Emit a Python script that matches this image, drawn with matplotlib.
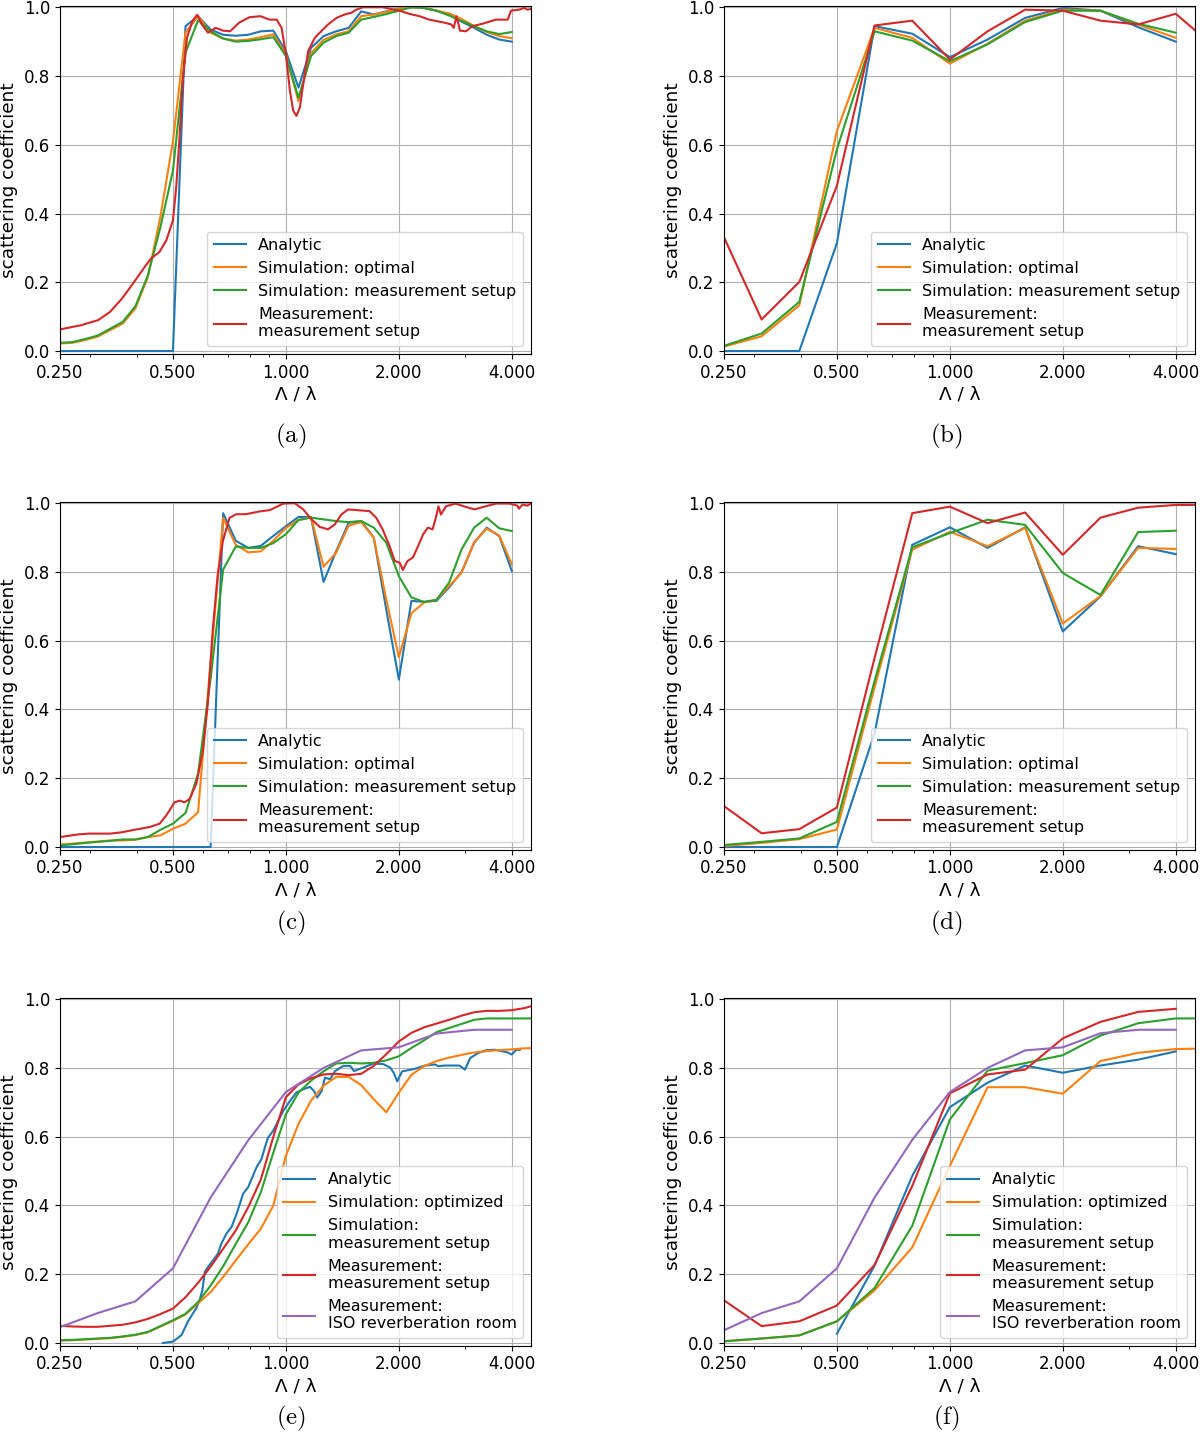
import numpy as np
import matplotlib
matplotlib.use('Agg')
import matplotlib.pyplot as plt
from matplotlib.ticker import FormatStrFormatter, NullFormatter

plt.rcParams['mathtext.fontset'] = 'cm'

# third-octave steps of Lambda/lambda
X3 = [0.25, 0.315, 0.397, 0.5, 0.63, 0.794, 1.0, 1.26, 1.587, 2.0, 2.52, 3.175, 4.0, 5.04]

# 1/9-octave steps of Lambda/lambda
X9 = [0.25, 0.27, 0.2916, 0.315, 0.3402, 0.3674, 0.3969, 0.4286, 0.4629, 0.5,
      0.54, 0.5833, 0.63, 0.6804, 0.7349, 0.7937, 0.8572, 0.9259, 1.0, 1.0801,
      1.1665, 1.2599, 1.3608, 1.4697, 1.5874, 1.7145, 1.8517, 2.0, 2.1601, 2.3331,
      2.5198, 2.7216, 2.9395, 3.1748, 3.429, 3.7035, 4.0, 4.3203, 4.6661]

# (a)
A_ANALYTIC = [0, 0, 0, 0, 0, 0, 0, 0, 0, 0,
              0.945, 0.974, 0.935, 0.92, 0.917, 0.92, 0.93, 0.932, 0.872, 0.766,
              0.882, 0.916, 0.93, 0.94, 0.988, 0.979, 0.988, 0.996, 1.0, 0.998,
              0.99, 0.978, 0.958, 0.94, 0.92, 0.906, 0.9]
A_SIM_OPT = [0.022, 0.024, 0.032, 0.042, 0.061, 0.08, 0.124, 0.215, 0.39, 0.61,
             0.926, 0.974, 0.926, 0.909, 0.903, 0.906, 0.913, 0.921, 0.863, 0.727,
             0.867, 0.905, 0.921, 0.93, 0.974, 0.979, 0.986, 0.996, 1.0, 0.998,
             0.99, 0.982, 0.966, 0.945, 0.928, 0.916, 0.91]
A_SIM_SETUP = [0.024, 0.026, 0.035, 0.045, 0.065, 0.085, 0.13, 0.22, 0.36, 0.525,
               0.868, 0.962, 0.93, 0.909, 0.9, 0.902, 0.907, 0.913, 0.858, 0.737,
               0.858, 0.897, 0.916, 0.926, 0.964, 0.972, 0.98, 0.99, 1.0, 0.998,
               0.99, 0.976, 0.96, 0.945, 0.93, 0.922, 0.928]
A_MEAS_X = [0.25, 0.284, 0.316, 0.34, 0.366, 0.394, 0.42, 0.436, 0.46, 0.48,
            0.5, 0.51, 0.52, 0.53, 0.545, 0.563, 0.58, 0.597, 0.62, 0.65,
            0.68, 0.71, 0.75, 0.8, 0.855, 0.905, 0.945, 0.974, 1.0, 1.025,
            1.046, 1.067, 1.089, 1.112, 1.146, 1.194, 1.231, 1.295, 1.364, 1.434,
            1.495, 1.54, 1.605, 1.81, 2.01, 2.13, 2.27, 2.41, 2.54, 2.65,
            2.76, 2.8, 2.85, 2.91, 3.02, 3.14, 3.34, 3.63, 3.9, 3.98,
            4.18, 4.32, 4.4, 4.5]
A_MEAS_Y = [0.063, 0.075, 0.09, 0.114, 0.153, 0.201, 0.244, 0.268, 0.288, 0.322,
            0.38, 0.476, 0.612, 0.776, 0.911, 0.959, 0.978, 0.95, 0.926, 0.94,
            0.932, 0.93, 0.955, 0.971, 0.974, 0.964, 0.964, 0.94, 0.863, 0.757,
            0.699, 0.684, 0.708, 0.776, 0.872, 0.911, 0.926, 0.95, 0.969, 0.979,
            0.984, 0.993, 1.0, 1.0, 0.99, 0.981, 0.974, 0.964, 0.959, 0.955,
            0.95, 0.94, 0.974, 0.932, 0.93, 0.945, 0.952, 0.964, 0.964, 0.99,
            0.993, 0.998, 0.993, 0.995]

# (b)
B_ANALYTIC = [0, 0, 0, 0.314, 0.945, 0.923, 0.855, 0.906, 0.969, 0.998, 0.99, 0.942, 0.9]
B_SIM_OPT = [0.013, 0.043, 0.133, 0.64, 0.94, 0.911, 0.836, 0.894, 0.961, 0.993, 0.99, 0.95, 0.911]
B_SIM_SETUP = [0.015, 0.051, 0.143, 0.587, 0.93, 0.903, 0.843, 0.892, 0.957, 0.99, 0.99, 0.952, 0.926]
B_MEAS = [0.331, 0.092, 0.201, 0.481, 0.947, 0.961, 0.848, 0.93, 0.993, 0.99, 0.961, 0.95, 0.981, 0.887]

# (c)
C_ANALYTIC = [0, 0, 0, 0, 0, 0, 0, 0, 0, 0, 0, 0, 0,
              0.971, 0.891, 0.87, 0.876, 0.905, 0.933, 0.96, 0.96, 0.771, 0.86,
              0.943, 0.948, 0.9, 0.69, 0.487, 0.716, 0.713, 0.716, 0.755, 0.8,
              0.885, 0.929, 0.904, 0.803]
C_SIM_OPT = [0.007, 0.01, 0.013, 0.016, 0.019, 0.019, 0.021, 0.029, 0.034, 0.053,
             0.068, 0.101, 0.54, 0.957, 0.879, 0.857, 0.86, 0.891, 0.928, 0.951,
             0.96, 0.815, 0.856, 0.935, 0.945, 0.9, 0.72, 0.552, 0.68, 0.711,
             0.719, 0.759, 0.798, 0.887, 0.926, 0.906, 0.822]
C_SIM_SETUP = [0.005, 0.008, 0.012, 0.015, 0.018, 0.022, 0.022, 0.029, 0.05, 0.068,
               0.099, 0.213, 0.49, 0.807, 0.874, 0.87, 0.87, 0.884, 0.91, 0.951,
               0.958, 0.953, 0.948, 0.945, 0.948, 0.929, 0.885, 0.788, 0.726, 0.713,
               0.719, 0.769, 0.866, 0.929, 0.958, 0.927, 0.919]
C_MEAS_X = [0.25, 0.281, 0.299, 0.34, 0.366, 0.394, 0.433, 0.461, 0.48, 0.505,
            0.521, 0.537, 0.554, 0.577, 0.601, 0.619, 0.638, 0.658, 0.679, 0.707,
            0.737, 0.782, 0.85, 0.907, 0.984, 1.056, 1.112, 1.17, 1.231, 1.295,
            1.349, 1.405, 1.464, 1.54, 1.67, 1.74, 1.81, 1.89, 1.95, 2.01,
            2.05, 2.11, 2.18, 2.25, 2.32, 2.39, 2.46, 2.51, 2.55, 2.59,
            2.67, 2.83, 3.02, 3.18, 3.41, 3.63, 3.94, 4.14, 4.18, 4.27,
            4.4, 4.5]
C_MEAS_Y = [0.029, 0.037, 0.039, 0.039, 0.043, 0.05, 0.058, 0.068, 0.092, 0.13,
            0.135, 0.13, 0.14, 0.184, 0.28, 0.415, 0.628, 0.792, 0.889, 0.957,
            0.968, 0.968, 0.976, 0.98, 0.999, 1.0, 0.982, 0.953, 0.931, 0.924,
            0.938, 0.967, 0.982, 0.98, 0.977, 0.958, 0.924, 0.875, 0.832, 0.827,
            0.806, 0.832, 0.842, 0.875, 0.909, 0.929, 0.924, 0.958, 0.991, 0.967,
            0.991, 0.999, 0.989, 0.982, 0.991, 0.999, 0.999, 0.993, 0.984, 0.996,
            0.993, 0.999]

# (d)
D_ANALYTIC = [0, 0, 0, 0, 0.331, 0.879, 0.93, 0.87, 0.93, 0.627, 0.729, 0.875, 0.852]
D_SIM_OPT = [0.003, 0.012, 0.023, 0.051, 0.465, 0.865, 0.917, 0.875, 0.928, 0.65, 0.73, 0.87, 0.867]
D_SIM_SETUP = [0.006, 0.015, 0.025, 0.073, 0.483, 0.872, 0.913, 0.952, 0.937, 0.797, 0.733, 0.916, 0.92]
D_MEAS = [0.119, 0.04, 0.052, 0.115, 0.55, 0.971, 0.99, 0.942, 0.973, 0.85, 0.958, 0.987, 0.995, 0.995]

# (e)
E_ANALYTIC_X = [0.47, 0.5, 0.527, 0.548, 0.565, 0.577, 0.589, 0.599, 0.608, 0.62,
                0.64, 0.659, 0.673, 0.694, 0.716, 0.739, 0.754, 0.769, 0.793, 0.81,
                0.835, 0.861, 0.879, 0.897, 0.925, 0.954, 0.984, 1.025, 1.068, 1.112,
                1.159, 1.188, 1.212, 1.245, 1.271, 1.311, 1.352, 1.423, 1.483, 1.519,
                1.609, 1.711, 1.819, 1.897, 1.94, 1.98, 2.04, 2.2, 2.35, 2.5,
                2.55, 2.65, 2.75, 2.9, 3.0, 3.1, 3.25, 3.4, 3.6, 3.8,
                3.9, 4.0, 4.1, 4.2]
E_ANALYTIC_Y = [0.0, 0.004, 0.023, 0.062, 0.086, 0.101, 0.125, 0.154, 0.207, 0.221,
                0.241, 0.26, 0.289, 0.318, 0.337, 0.376, 0.405, 0.434, 0.453, 0.477,
                0.511, 0.535, 0.569, 0.598, 0.617, 0.646, 0.675, 0.704, 0.729, 0.738,
                0.745, 0.733, 0.714, 0.733, 0.772, 0.767, 0.791, 0.806, 0.806, 0.791,
                0.801, 0.813, 0.811, 0.801, 0.785, 0.761, 0.79, 0.797, 0.807, 0.81,
                0.805, 0.807, 0.807, 0.807, 0.795, 0.829, 0.843, 0.851, 0.853, 0.848,
                0.845, 0.839, 0.852, 0.853]
E_SIM_OPT = [0.007, 0.008, 0.01, 0.012, 0.014, 0.018, 0.023, 0.031, 0.048, 0.064,
             0.083, 0.115, 0.148, 0.192, 0.24, 0.287, 0.332, 0.4, 0.545, 0.637,
             0.705, 0.748, 0.774, 0.774, 0.75, 0.709, 0.671, 0.728, 0.78, 0.805,
             0.82, 0.83, 0.838, 0.845, 0.849, 0.852, 0.854, 0.857, 0.858]
E_SIM_SETUP = [0.008, 0.009, 0.011, 0.013, 0.015, 0.019, 0.024, 0.032, 0.049, 0.066,
               0.085, 0.119, 0.167, 0.223, 0.288, 0.351, 0.438, 0.554, 0.665, 0.728,
               0.763, 0.79, 0.813, 0.815, 0.813, 0.815, 0.822, 0.834, 0.858, 0.88,
               0.904, 0.916, 0.928, 0.94, 0.944, 0.944, 0.944, 0.944, 0.944]
E_MEAS = [0.05, 0.048, 0.047, 0.047, 0.05, 0.053, 0.06, 0.07, 0.084, 0.1,
          0.133, 0.175, 0.222, 0.274, 0.327, 0.395, 0.475, 0.6, 0.715, 0.752,
          0.77, 0.781, 0.783, 0.779, 0.783, 0.806, 0.84, 0.877, 0.902, 0.918,
          0.929, 0.94, 0.952, 0.962, 0.966, 0.966, 0.968, 0.974, 0.984]
E_ISO = [0.046, 0.087, 0.121, 0.217, 0.423, 0.59, 0.73, 0.8, 0.851, 0.86, 0.9, 0.911, 0.911]

# (f)
F_ANALYTIC = [np.nan, np.nan, np.nan, 0.027, 0.225, 0.486, 0.686, 0.757, 0.807, 0.786, 0.807, 0.824, 0.848]
F_SIM_OPT = [0.005, 0.013, 0.022, 0.063, 0.153, 0.278, 0.515, 0.744, 0.744, 0.725, 0.82, 0.844, 0.855, 0.857]
F_SIM_SETUP = [0.005, 0.013, 0.022, 0.063, 0.16, 0.341, 0.65, 0.792, 0.814, 0.837, 0.894, 0.93, 0.944, 0.944]
F_MEAS = [0.124, 0.049, 0.063, 0.109, 0.227, 0.457, 0.726, 0.781, 0.795, 0.886, 0.934, 0.963, 0.972]
F_ISO = [0.037, 0.087, 0.121, 0.217, 0.423, 0.591, 0.73, 0.8, 0.851, 0.86, 0.901, 0.911, 0.911]

LABELS_AD = ['Analytic', 'Simulation: optimal', 'Simulation: measurement setup',
             'Measurement:\nmeasurement setup']
LABELS_EF = ['Analytic', 'Simulation: optimized', 'Simulation:\nmeasurement setup',
             'Measurement:\nmeasurement setup', 'Measurement:\nISO reverberation room']
COLORS = ['tab:blue', 'tab:orange', 'tab:green', 'tab:red', 'tab:purple']

XTICKS = [0.25, 0.5, 1.0, 2.0, 4.0]
YTICKS = [0.0, 0.2, 0.4, 0.6, 0.8, 1.0]
TICK_FS = 12
LABEL_FS = 13.3
LEGEND_FS = 11.5


def style_axes(ax):
    ax.set_xscale('log')
    ax.set_xlim(0.25, 4.5)
    ax.set_ylim(-0.008, 1.004)
    ax.set_xticks(XTICKS)
    ax.xaxis.set_major_formatter(FormatStrFormatter('%.3f'))
    ax.xaxis.set_minor_formatter(NullFormatter())
    ax.set_yticks(YTICKS)
    ax.yaxis.set_major_formatter(FormatStrFormatter('%.1f'))
    ax.tick_params(labelsize=TICK_FS)
    ax.grid(True, which='major', color='#b0b0b0', linewidth=0.8)
    ax.set_axisbelow(True)
    ax.set_xlabel('Λ / λ', fontsize=LABEL_FS, labelpad=3)
    ax.set_ylabel('scattering coefficient', fontsize=LABEL_FS, labelpad=4)


def draw_panel(ax, series, labels):
    for (x, y), color, label in zip(series, COLORS, labels):
        n = len(y)
        ax.plot(x[:n], y, color=color, linewidth=1.5, label=label)
    style_axes(ax)
    ax.legend(loc='lower right', fontsize=LEGEND_FS)


fig = plt.figure(figsize=(12, 14.33), dpi=100)

COL_LEFT = [0.05, 0.6033]
ROW_BOTTOM = [0.7531, 0.4070, 0.0609]
W, H = 0.3925, 0.2428

panels = [
    ('a', 0, 0, [(X9, A_ANALYTIC), (X9, A_SIM_OPT), (X9, A_SIM_SETUP), (A_MEAS_X, A_MEAS_Y)], LABELS_AD),
    ('b', 0, 1, [(X3, B_ANALYTIC), (X3, B_SIM_OPT), (X3, B_SIM_SETUP), (X3, B_MEAS)], LABELS_AD),
    ('c', 1, 0, [(X9, C_ANALYTIC), (X9, C_SIM_OPT), (X9, C_SIM_SETUP), (C_MEAS_X, C_MEAS_Y)], LABELS_AD),
    ('d', 1, 1, [(X3, D_ANALYTIC), (X3, D_SIM_OPT), (X3, D_SIM_SETUP), (X3, D_MEAS)], LABELS_AD),
    ('e', 2, 0, [(E_ANALYTIC_X, E_ANALYTIC_Y), (X9, E_SIM_OPT), (X9, E_SIM_SETUP), (X9, E_MEAS), (X3, E_ISO)], LABELS_EF),
    ('f', 2, 1, [(X3, F_ANALYTIC), (X3, F_SIM_OPT), (X3, F_SIM_SETUP), (X3, F_MEAS), (X3, F_ISO)], LABELS_EF),
]

CAPTION_X = [0.2425, 0.7888]
CAPTION_Y = [0.6957, 0.3559, 0.0105]

for tag, row, col, series, labels in panels:
    ax = fig.add_axes([COL_LEFT[col], ROW_BOTTOM[row], W, H])
    draw_panel(ax, series, labels)
    fig.text(CAPTION_X[col], CAPTION_Y[row], r'$\mathrm{(%s)}$' % tag,
             ha='center', va='center', fontsize=18)

fig.savefig('out.png', dpi=100)
